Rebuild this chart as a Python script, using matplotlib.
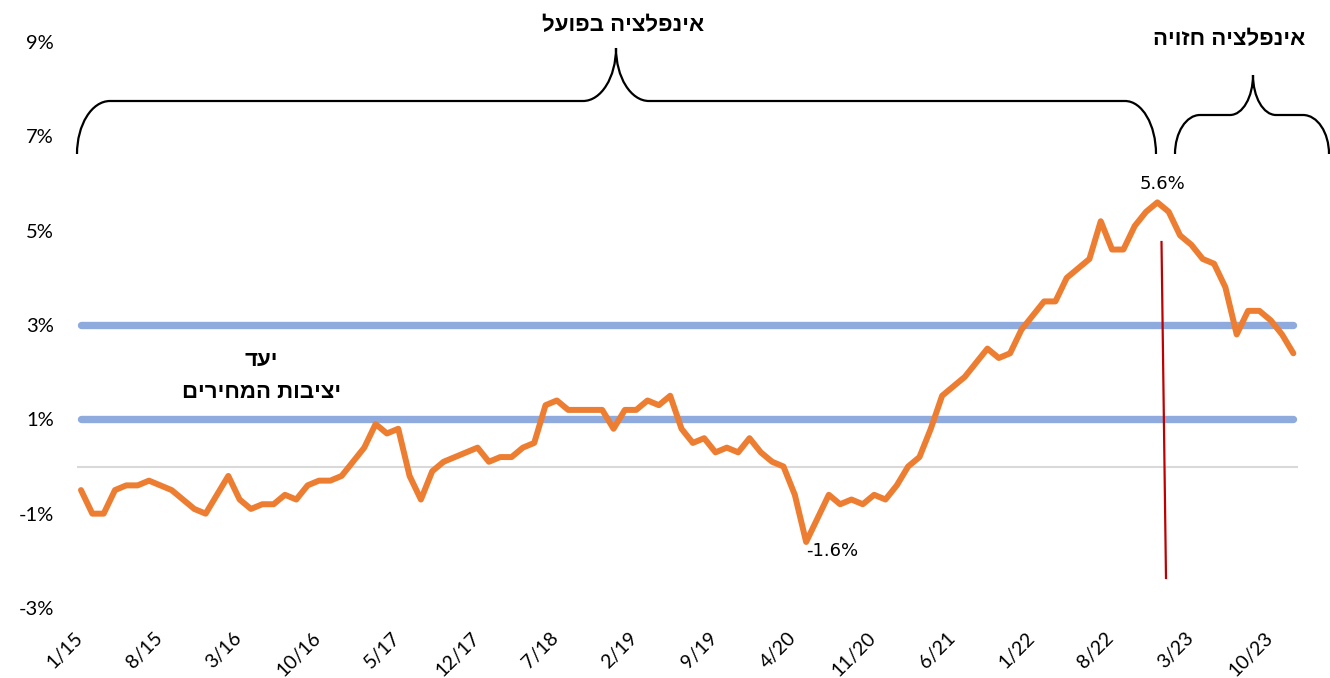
import matplotlib
matplotlib.use('Agg')
import matplotlib.pyplot as plt
import matplotlib.transforms as mtransforms
from matplotlib.path import Path
from matplotlib.patches import PathPatch
from matplotlib.lines import Line2D

# ---------------- data ----------------
months = [f"{m}/{y}" for y in range(15, 24) for m in range(1, 13)]  # 1/15 .. 12/23
inflation = [
    -0.5, -1.0, -1.0, -0.5, -0.4, -0.4, -0.3, -0.4, -0.5, -0.7, -0.9, -1.0,   # 2015
    -0.6, -0.2, -0.7, -0.9, -0.8, -0.8, -0.6, -0.7, -0.4, -0.3, -0.3, -0.2,   # 2016
    0.1, 0.4, 0.9, 0.7, 0.8, -0.2, -0.7, -0.1, 0.1, 0.2, 0.3, 0.4,            # 2017
    0.1, 0.2, 0.2, 0.4, 0.5, 1.3, 1.4, 1.2, 1.2, 1.2, 1.2, 0.8,               # 2018
    1.2, 1.2, 1.4, 1.3, 1.5, 0.8, 0.5, 0.6, 0.3, 0.4, 0.3, 0.6,               # 2019
    0.3, 0.1, 0.0, -0.6, -1.6, -1.1, -0.6, -0.8, -0.7, -0.8, -0.6, -0.7,      # 2020
    -0.4, 0.0, 0.2, 0.8, 1.5, 1.7, 1.9, 2.2, 2.5, 2.3, 2.4, 2.9,              # 2021
    3.2, 3.5, 3.5, 4.0, 4.2, 4.4, 5.2, 4.6, 4.6, 5.1, 5.4, 5.6,               # 2022
    5.4, 4.9, 4.7, 4.4, 4.3, 3.8, 2.8, 3.3, 3.3, 3.1, 2.8, 2.4,               # 2023
]
target_low = 1.0
target_high = 3.0
y_ticks = [-3, -1, 1, 3, 5, 7, 9]
tick_step = 7
label_max = "5.6%"
label_min = "-1.6%"
title_actual = "אינפלציה בפועל"
title_forecast = "אינפלציה חזויה"
target_line1 = "יעד"
target_line2 = "יציבות המחירים"

# ---------------- figure ----------------
W, H, DPI = 1330, 678, 100
fig = plt.figure(figsize=(W / DPI, H / DPI), dpi=DPI)
fig.patch.set_facecolor('white')

L, R, T, B = 77, 1298, 42, 608
ax = fig.add_axes([L / W, 1 - B / H, (R - L) / W, (B - T) / H])
ax.set_xlim(-0.353, 107.41)
ax.set_ylim(-3, 9)
for s in ax.spines.values():
    s.set_visible(False)

n = len(inflation)
xs = list(range(n))

ax.axhline(0, color='#D9D9D9', lw=1.5, zorder=1)
for lvl in (target_low, target_high):
    ax.plot([xs[0], xs[-1]], [lvl, lvl], color='#8FAADC', lw=5.3,
            solid_capstyle='round', zorder=2)
ax.plot(xs, inflation, color='#ED7D31', lw=4.3, solid_joinstyle='round',
        solid_capstyle='round', zorder=3)

num_font = 'Lato'
i_max = inflation.index(max(inflation))
i_min = inflation.index(min(inflation))
ax.annotate(label_max, (i_max, inflation[i_max]), xytext=(5, 18),
            textcoords='offset pixels', ha='center', va='center',
            fontsize=13, family='DejaVu Sans', color='#000000')
ax.annotate(label_min, (i_min, inflation[i_min]), xytext=(26, -9),
            textcoords='offset pixels', ha='center', va='center',
            fontsize=13, family='DejaVu Sans', color='#000000')

# ticks
ax.set_yticks(y_ticks)
ax.set_yticklabels([f"{v}%" for v in y_ticks], fontsize=14.5, family=num_font)
ax.set_xticks(xs[::tick_step])
ax.set_xticklabels(months[::tick_step], fontsize=14, family=num_font,
                   rotation=45, ha='right', va='top')
ax.tick_params(axis='y', length=0, pad=16.5)
ax.tick_params(axis='x', length=0, pad=15)
offset = mtransforms.ScaledTranslation(5 / DPI, 0, fig.dpi_scale_trans)
for lbl in ax.get_xticklabels():
    lbl.set_transform(lbl.get_transform() + offset)

# pixel transform for annotations
pix = mtransforms.Affine2D().scale(1 / W, -1 / H).translate(0, 1) + fig.transFigure

def brace(x0, x1, xt, ybase, yflat, ytip, r0, r1, rt):
    k = 0.552
    verts = [(x0, ybase),
             (x0, ybase - k * (ybase - yflat)), (x0 + r0 - k * r0, yflat), (x0 + r0, yflat),
             (xt - rt, yflat),
             (xt - rt + k * rt, yflat), (xt, ytip + k * (yflat - ytip)), (xt, ytip),
             (xt, ytip + k * (yflat - ytip)), (xt + rt - k * rt, yflat), (xt + rt, yflat),
             (x1 - r1, yflat),
             (x1 - r1 + k * r1, yflat), (x1, ybase - k * (ybase - yflat)), (x1, ybase)]
    codes = [Path.MOVETO,
             Path.CURVE4, Path.CURVE4, Path.CURVE4,
             Path.LINETO,
             Path.CURVE4, Path.CURVE4, Path.CURVE4,
             Path.CURVE4, Path.CURVE4, Path.CURVE4,
             Path.LINETO,
             Path.CURVE4, Path.CURVE4, Path.CURVE4]
    p = PathPatch(Path(verts, codes), transform=pix, fill=False,
                  edgecolor='black', lw=1.6, clip_on=False)
    fig.add_artist(p)

brace(77, 1156, 616, 154, 101, 48, 33, 31, 33)
brace(1175, 1329, 1253, 154, 115, 75, 25, 26, 23)

# red divider
fig.add_artist(Line2D([1161.5, 1166], [242, 578], transform=pix,
                      color='#C00000', lw=1.6))

heb = ['Liberation Sans', 'DejaVu Sans']
def heb_text(x, y, s):
    fig.text(x, y, s[::-1], transform=pix, ha='center', va='baseline',
             fontsize=16, fontweight='bold', family=heb, color='black')

heb_text(623, 31, title_actual)
heb_text(1229, 45, title_forecast)
heb_text(261, 366, target_line1)
heb_text(262, 398, target_line2)

fig.savefig('out.png', dpi=DPI, facecolor='white')
